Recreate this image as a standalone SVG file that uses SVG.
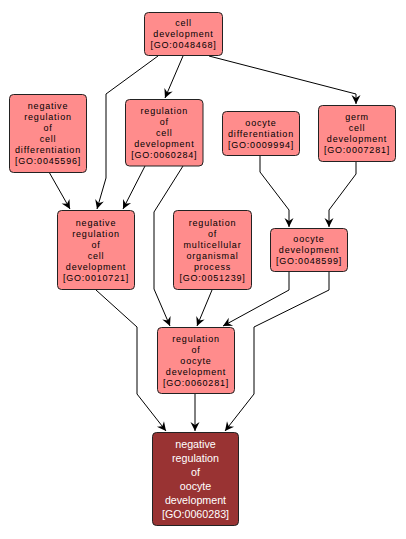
<svg xmlns="http://www.w3.org/2000/svg" width="406" height="539" viewBox="0 0 406 539">
<defs>
<marker id="arr" markerUnits="userSpaceOnUse" markerWidth="12" markerHeight="12" viewBox="-10 -6 12 12" refX="0" refY="0" orient="auto" overflow="visible">
<path d="M0,0 L-9,-4.5 L-6,0 L-9,4.5 Z" fill="#000"/>
</marker>
<style>
.n rect{fill:#ff8c8c;stroke:#222;stroke-width:1}
.n text{font-family:"Liberation Sans",Arial,sans-serif;font-size:9px;letter-spacing:0.8px;fill:#000;text-anchor:middle}
.d rect{fill:#993333;stroke:#222;stroke-width:1}
.d text{font-family:"Liberation Sans",Arial,sans-serif;font-size:10.7px;fill:#fff;text-anchor:middle}
.e path{fill:none;stroke:#000;stroke-width:1;marker-end:url(#arr)}
</style>
</defs>
<rect width="406" height="539" fill="#fff"/>
<g class="e" id="edges">
<path d="M158,56 L106,94 L106,178 L97,209"/>
<path d="M49,172 L70,209"/>
<path d="M145,166 L123,209"/>
<path d="M183,56 L165,98"/>
<path d="M209,56 L356,94 L356,104"/>
<path d="M183,166 L154,212 L154,289 L170,326"/>
<path d="M260,155 L260,172 L289,210 L289,227"/>
<path d="M356,162 L356,174 L329,210 L329,227"/>
<path d="M212,290 L197,326"/>
<path d="M289,272 L289,290 L223,326"/>
<path d="M329,272 L329,290 L254,327 L254,394 L225,431"/>
<path d="M96,290 L137,327 L137,394 L166,431"/>
<path d="M195,394 L195,431"/>
</g>
<g class="n" id="GO0048468">
<rect x="144.5" y="12.5" width="78" height="43" rx="4"/>
<text x="183.5" y="26.3">cell</text>
<text x="183.5" y="37.3">development</text>
<text x="183.5" y="48.3">[GO:0048468]</text>
</g>
<g class="n" id="GO0045596">
<rect x="9.5" y="94.5" width="77" height="78" rx="4"/>
<text x="48" y="109.3">negative</text>
<text x="48" y="120.3">regulation</text>
<text x="48" y="131.3">of</text>
<text x="48" y="142.3">cell</text>
<text x="48" y="153.3">differentiation</text>
<text x="48" y="164.3">[GO:0045596]</text>
</g>
<g class="n" id="GO0060284">
<rect x="125.5" y="99.5" width="77.5" height="66.5" rx="4"/>
<text x="164.3" y="114">regulation</text>
<text x="164.3" y="125">of</text>
<text x="164.3" y="136">cell</text>
<text x="164.3" y="147">development</text>
<text x="164.3" y="158">[GO:0060284]</text>
</g>
<g class="n" id="GO0009994">
<rect x="222.5" y="111.5" width="77" height="44" rx="4"/>
<text x="261" y="125.8">oocyte</text>
<text x="261" y="136.8">differentiation</text>
<text x="261" y="147.8">[GO:0009994]</text>
</g>
<g class="n" id="GO0007281">
<rect x="318.5" y="105.5" width="77" height="56" rx="4"/>
<text x="357" y="120.3">germ</text>
<text x="357" y="131.3">cell</text>
<text x="357" y="142.3">development</text>
<text x="357" y="153.3">[GO:0007281]</text>
</g>
<g class="n" id="GO0010721">
<rect x="57.5" y="210.5" width="77" height="79" rx="4"/>
<text x="96" y="225.8">negative</text>
<text x="96" y="236.8">regulation</text>
<text x="96" y="247.8">of</text>
<text x="96" y="258.8">cell</text>
<text x="96" y="269.8">development</text>
<text x="96" y="280.8">[GO:0010721]</text>
</g>
<g class="n" id="GO0051239">
<rect x="173.5" y="210.5" width="78" height="79" rx="4"/>
<text x="212.5" y="225.8">regulation</text>
<text x="212.5" y="236.8">of</text>
<text x="212.5" y="247.8">multicellular</text>
<text x="212.5" y="258.8">organismal</text>
<text x="212.5" y="269.8">process</text>
<text x="212.5" y="280.8">[GO:0051239]</text>
</g>
<g class="n" id="GO0048599">
<rect x="270.5" y="228.5" width="77" height="43" rx="4"/>
<text x="309" y="242.3">oocyte</text>
<text x="309" y="253.3">development</text>
<text x="309" y="264.3">[GO:0048599]</text>
</g>
<g class="n" id="GO0060281">
<rect x="157.5" y="327.5" width="77" height="66" rx="4"/>
<text x="196" y="341.8">regulation</text>
<text x="196" y="352.8">of</text>
<text x="196" y="363.8">oocyte</text>
<text x="196" y="374.8">development</text>
<text x="196" y="385.8">[GO:0060281]</text>
</g>
<g class="d" id="GO0060283">
<rect x="152.5" y="432.5" width="86" height="93" rx="4"/>
<text x="195.5" y="447.8">negative</text>
<text x="195.5" y="461.8">regulation</text>
<text x="195.5" y="475.8">of</text>
<text x="195.5" y="489.8">oocyte</text>
<text x="195.5" y="503.8">development</text>
<text x="195.5" y="517.8">[GO:0060283]</text>
</g>
</svg>
